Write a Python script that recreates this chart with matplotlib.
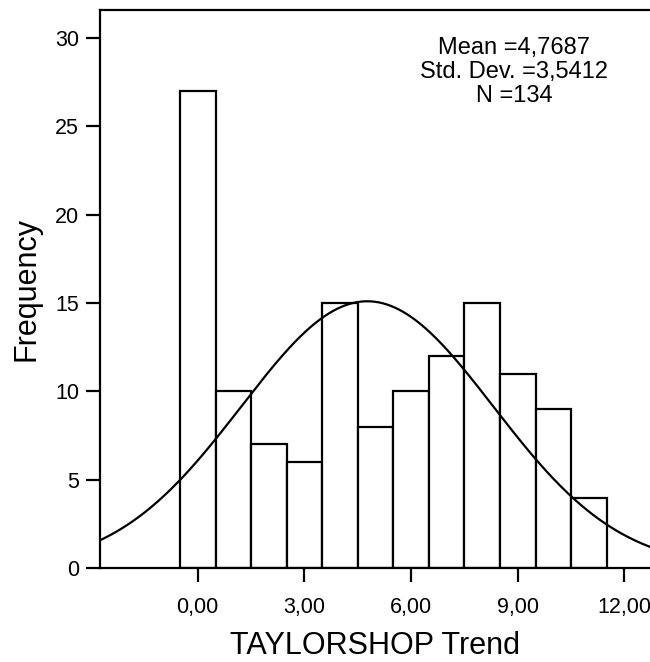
import matplotlib
matplotlib.use("Agg")
import matplotlib.pyplot as plt
import numpy as np

# histogram of TAYLORSHOP Trend, bin width 1
bin_centers = [0, 1, 2, 3, 4, 5, 6, 7, 8, 9, 10, 11]
counts = [27, 10, 7, 6, 15, 8, 10, 12, 15, 11, 9, 4]
mean = 4.7687
std = 3.5412
n = 134
x_ticks = [0, 3, 6, 9, 12]
x_tick_labels = ["0,00", "3,00", "6,00", "9,00", "12,00"]
y_ticks = [0, 5, 10, 15, 20, 25, 30]

plt.rcParams["font.family"] = ["Liberation Sans", "DejaVu Sans"]

fig = plt.figure(figsize=(6.5, 6.62), dpi=100)
ax = fig.add_axes([0.1538, 0.1415, 0.8462, 0.8434])

ax.bar(bin_centers, counts, width=1.0, facecolor="white", edgecolor="black",
       linewidth=1.6, zorder=2)

xmin, xmax = -2.75, 12.72
xs = np.linspace(xmin, xmax, 400)
pdf = np.exp(-0.5 * ((xs - mean) / std) ** 2) / (std * np.sqrt(2 * np.pi))
ax.plot(xs, n * 1.0 * pdf, color="black", linewidth=1.6, zorder=3)

ax.set_xlim(xmin, xmax)
ax.set_ylim(0, 31.56)
ax.set_xticks(x_ticks)
ax.set_xticklabels(x_tick_labels)
ax.set_yticks(y_ticks)
ax.tick_params(axis="both", direction="out", length=10, width=1.6,
               labelsize=15.5, pad=5)
ax.tick_params(axis="x", pad=11)
for side in ["left", "bottom", "top"]:
    ax.spines[side].set_linewidth(1.6)
ax.spines["right"].set_visible(False)

ax.set_xlabel("TAYLORSHOP Trend", fontsize=22, labelpad=9)
ax.set_ylabel("Frequency", fontsize=22, labelpad=10)

ax.text(0.753, 0.952, "Mean =4,7687\nStd. Dev. =3,5412\nN =134",
        transform=ax.transAxes, ha="center", va="top", fontsize=17,
        linespacing=1.12)

fig.savefig("out.png", dpi=100)
